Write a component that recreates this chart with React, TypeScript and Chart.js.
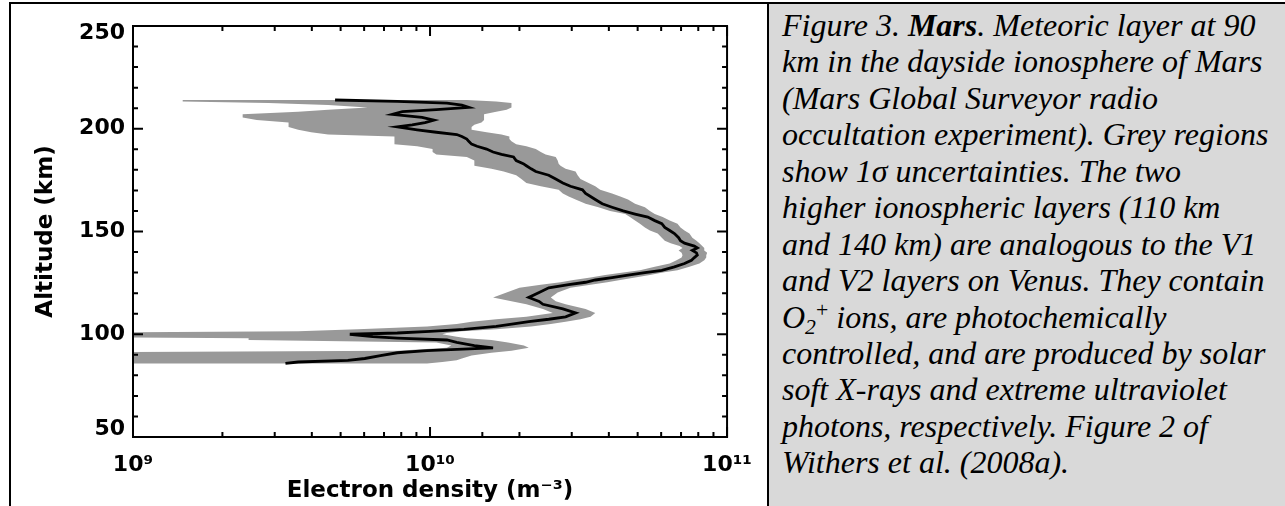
import React, { useEffect, useRef } from 'react';
import { Chart, registerables } from 'chart.js';

Chart.register(...registerables);

// ---------- data ----------
const altitudeKm = [
  85.8, 86.5, 87.3, 88.2, 89.6, 91.0, 92.0, 93.4, 94.5, 96.0,
  97.2, 98.1, 98.8, 100.0, 100.6, 101.4, 102.4, 103.8, 105.0, 106.1,
  107.3, 108.5, 110.4, 112.3, 114.6, 116.0, 117.9, 120.3, 122.6, 124.1,
  125.3, 126.4, 127.6, 128.8, 130.0, 131.1, 132.8, 134.4, 136.0, 137.3,
  138.5, 139.6, 140.8, 142.0, 142.9, 144.3, 145.5, 147.0, 149.0, 150.5,
  152.0, 153.8, 155.3, 157.0, 158.5, 160.0, 161.8, 163.5, 165.6, 167.0,
  168.5, 170.3, 172.0, 173.6, 175.5, 177.4, 179.2, 180.5, 182.0, 183.0,
  184.5, 186.3, 187.5, 188.7, 190.1, 191.5, 192.5, 193.9, 195.0, 196.2,
  197.2, 198.3, 199.5, 200.9, 201.9, 203.0, 204.2, 205.5, 207.0, 208.3,
  209.3, 210.4, 211.5, 212.5, 213.3, 214.0,
];

const densityM3 = [
  3.26e9, 3.6e9, 5.29e9, 6.03e9, 6.81e9, 7.76e9, 9.77e9, 1.63e10, 1.41e10, 1.23e10,
  1.14e10, 7.76e9, 6.41e9, 5.37e9, 7.76e9, 1.0e10, 1.3e10, 1.67e10, 1.91e10, 2.15e10,
  2.51e10, 2.86e10, 3.09e10, 2.8e10, 2.4e10, 2.33e10, 2.15e10, 2.33e10, 2.51e10, 2.93e10,
  3.34e10, 3.6e10, 4.1e10, 4.64e10, 5.29e10, 6.03e10, 6.65e10, 7.19e10, 7.59e10, 7.76e10,
  7.94e10, 7.89e10, 7.64e10, 7.94e10, 7.76e10, 7.19e10, 6.97e10, 6.87e10, 6.65e10, 6.41e10,
  6.17e10, 6.03e10, 5.71e10, 5.41e10, 4.9e10, 4.47e10, 4.1e10, 3.8e10, 3.6e10, 3.47e10,
  3.34e10, 3.26e10, 2.97e10, 2.8e10, 2.65e10, 2.51e10, 2.27e10, 2.19e10, 2.11e10, 2.06e10,
  1.95e10, 1.91e10, 1.74e10, 1.63e10, 1.55e10, 1.44e10, 1.38e10, 1.35e10, 1.33e10, 1.28e10,
  1.23e10, 1.05e10, 9.05e9, 7.76e9, 8.71e9, 9.62e9, 1.03e10, 9.4e9, 7.47e9, 8.07e9,
  1.05e10, 1.35e10, 1.28e10, 1.14e10, 7.76e9, 4.79e9,
];

// 1-sigma band edges (3e8 = below the axis minimum)
const lowerM3 = [
  3e8, 3e8, 3e8, 3e8, 3e8, 3e8, 7.76e9, 1.14e10, 1.18e10, 1.05e10,
  2.45e9, 2.45e9, 3e8, 3e8, 3e8, 3.6e9, 5.71e9, 9.77e9, 1.23e10, 1.38e10,
  1.67e10, 2.11e10, 2.59e10, 2.4e10, 2.11e10, 1.88e10, 1.63e10, 1.81e10, 2.0e10, 2.36e10,
  2.75e10, 3.04e10, 3.47e10, 3.89e10, 4.47e10, 5.09e10, 5.71e10, 6.41e10, 6.76e10, 7.03e10,
  7.08e10, 7.03e10, 6.87e10, 7.08e10, 6.92e10, 6.46e10, 6.17e10, 6.03e10, 5.84e10, 5.5e10,
  5.29e10, 5.09e10, 4.9e10, 4.71e10, 4.54e10, 4.04e10, 3.69e10, 3.34e10, 3.09e10, 2.93e10,
  2.8e10, 2.71e10, 2.36e10, 2.11e10, 2.03e10, 1.95e10, 1.77e10, 1.61e10, 1.41e10, 1.41e10,
  1.41e10, 1.33e10, 1.05e10, 1.02e10, 1.02e10, 9.05e9, 7.59e9, 7.59e9, 7.59e9, 7.59e9,
  4.54e9, 3.98e9, 3.6e9, 3.34e9, 3.34e9, 3.34e9, 2.61e9, 2.34e9, 2.34e9, 3.6e9,
  4.54e9, 6.17e9, 4.54e9, 2.86e9, 1.47e9, 1.47e9,
];

const upperM3 = [
  9.77e9, 1.1e10, 1.23e10, 1.28e10, 1.38e10, 1.61e10, 1.88e10, 2.15e10, 2.07e10, 1.83e10,
  1.61e10, 1.33e10, 1.23e10, 1.1e10, 1.14e10, 1.28e10, 1.67e10, 2.19e10, 2.55e10, 2.86e10,
  3.21e10, 3.47e10, 3.6e10, 3.34e10, 2.86e10, 2.65e10, 2.55e10, 2.69e10, 2.97e10, 3.47e10,
  3.95e10, 4.37e10, 4.9e10, 5.5e10, 6.07e10, 6.81e10, 7.47e10, 8.07e10, 8.38e10, 8.51e10,
  8.51e10, 8.57e10, 8.38e10, 8.38e10, 8.25e10, 8.07e10, 7.89e10, 7.64e10, 7.47e10, 7.19e10,
  6.97e10, 6.81e10, 6.41e10, 6.07e10, 5.71e10, 5.5e10, 5.29e10, 4.9e10, 4.64e10, 4.37e10,
  4.1e10, 3.74e10, 3.6e10, 3.42e10, 3.21e10, 3.14e10, 3.09e10, 2.86e10, 2.75e10, 2.71e10,
  2.69e10, 2.65e10, 2.45e10, 2.36e10, 2.27e10, 2.11e10, 1.95e10, 1.88e10, 1.85e10, 1.85e10,
  1.74e10, 1.55e10, 1.38e10, 1.38e10, 1.41e10, 1.49e10, 1.52e10, 1.52e10, 1.52e10, 1.67e10,
  1.81e10, 1.88e10, 1.88e10, 1.88e10, 1.67e10, 1.33e10,
];

const X_MIN = 1e9;
const X_MAX = 1e11;
const Y_MIN = 50;
const Y_MAX = 250;
const Y_STEP = 10;
const Y_LABEL_STEP = 50;
const xDecadeLabels: Record<number, string> = { 9: '10⁹', 10: '10¹⁰', 11: '10¹¹' };
const xTitle = 'Electron density (m⁻³)';
const yTitle = 'Altitude (km)';

const AXIS_FONT = 'DejaVu Sans';

const isDecade = (v: number) => {
  const e = Math.log10(v);
  return Math.abs(e - Math.round(e)) < 1e-9;
};

const framePlugin = {
  id: 'idlFrame',
  afterDatasetsDraw(chart: any) {
    const { ctx, chartArea: a, scales } = chart;
    const xs = scales.x;
    const ys = scales.y;
    ctx.save();
    ctx.strokeStyle = '#000';
    ctx.lineWidth = 2;
    ctx.strokeRect(a.left, a.top, a.right - a.left, a.bottom - a.top);
    ctx.beginPath();
    for (const t of ys.ticks) {
      const py = ys.getPixelForValue(t.value);
      const len = t.value % Y_LABEL_STEP === 0 ? 10 : 5;
      ctx.moveTo(a.left, py);
      ctx.lineTo(a.left + len, py);
      ctx.moveTo(a.right, py);
      ctx.lineTo(a.right - len, py);
    }
    for (const t of xs.ticks) {
      const px = xs.getPixelForValue(t.value);
      const len = isDecade(t.value) ? 10 : 5;
      ctx.moveTo(px, a.bottom);
      ctx.lineTo(px, a.bottom - len);
      ctx.moveTo(px, a.top);
      ctx.lineTo(px, a.top + len);
    }
    ctx.stroke();
    ctx.restore();
  },
};

function ProfileChart() {
  const ref = useRef<HTMLCanvasElement>(null);
  useEffect(() => {
    const canvas = ref.current;
    if (!canvas) return;
    const lineData = altitudeKm.map((alt, i) => ({ x: densityM3[i], y: alt }));
    const bandData = [
      ...altitudeKm.map((alt, i) => ({ x: lowerM3[i], y: alt })),
      ...altitudeKm.map((alt, i) => ({ x: upperM3[i], y: alt })).reverse(),
    ];
    const chart = new Chart(canvas, {
      type: 'line',
      data: {
        datasets: [
          {
            label: 'Electron density',
            data: lineData,
            borderColor: '#000',
            borderWidth: 2.8,
            pointRadius: 0,
            fill: false,
            tension: 0,
            order: 0,
          } as any,
          {
            label: '1 sigma',
            data: bandData,
            borderColor: 'rgba(0,0,0,0)',
            borderWidth: 0,
            backgroundColor: '#999999',
            pointRadius: 0,
            fill: 'shape',
            tension: 0,
            order: 1,
          } as any,
        ],
      },
      options: {
        responsive: false,
        animation: false,
        devicePixelRatio: 1,
        events: [],
        layout: { padding: { left: 0, right: 34, top: 9, bottom: 0 } },
        plugins: { legend: { display: false }, tooltip: { enabled: false } },
        scales: {
          x: {
            type: 'logarithmic',
            min: X_MIN,
            max: X_MAX,
            position: 'bottom',
            afterFit: (s: any) => {
              s.height = 69;
            },
            grid: { display: false, drawTicks: false },
            border: { display: false },
            ticks: {
              autoSkip: false,
              maxRotation: 0,
              minRotation: 0,
              padding: 15,
              color: '#000',
              font: { family: AXIS_FONT, size: 22, weight: 'bold', lineHeight: 1.2 },
              callback: (v: any) => {
                const val = Number(v);
                return isDecade(val) ? xDecadeLabels[Math.round(Math.log10(val))] : '';
              },
            },
            title: {
              display: true,
              text: xTitle,
              color: '#000',
              font: { family: AXIS_FONT, size: 23, weight: 'bold', lineHeight: 1.2 },
              padding: { top: 0, bottom: 1 },
            },
          } as any,
          y: {
            type: 'linear',
            min: Y_MIN,
            max: Y_MAX,
            position: 'left',
            afterFit: (s: any) => {
              s.width = 122;
            },
            grid: { display: false, drawTicks: false },
            border: { display: false },
            ticks: {
              stepSize: Y_STEP,
              autoSkip: false,
              padding: 8,
              color: '#000',
              font: (c: any) => {
                const v = c.tick ? c.tick.value : 0;
                const lh = v === Y_MAX ? '14px' : v === Y_MIN ? '16px' : 1.2;
                return { family: AXIS_FONT, size: 22, weight: 'bold', lineHeight: lh };
              },
              callback: (v: any) => {
                const val = Number(v);
                if (val % Y_LABEL_STEP !== 0) return '';
                if (val === Y_MAX) return ['', String(val)];
                if (val === Y_MIN) return [String(val), ''];
                return String(val);
              },
            },
            title: {
              display: true,
              text: yTitle,
              color: '#000',
              font: { family: AXIS_FONT, size: 23, weight: 'bold', lineHeight: 1.2 },
              padding: { top: 21, bottom: 0 },
            },
          } as any,
        },
      },
      plugins: [framePlugin],
    });
    return () => chart.destroy();
  }, []);
  return <canvas ref={ref} width={756} height={502} style={{ display: 'block' }} />;
}

const lineStyle: React.CSSProperties = { height: 36.45, lineHeight: '36.45px', whiteSpace: 'nowrap' };
const subStyle: React.CSSProperties = { position: 'relative', top: '0.28em', fontSize: '0.68em', fontStyle: 'italic' };
const supStyle: React.CSSProperties = { position: 'relative', top: '-0.5em', fontSize: '0.68em', fontStyle: 'normal' };

function Caption() {
  return (
    <div
      style={{
        fontFamily: '"Liberation Serif", "Times New Roman", serif',
        fontStyle: 'italic',
        fontSize: 32,
        color: '#000',
        paddingLeft: 13,
        paddingTop: 3,
      }}
    >
      <div style={lineStyle}>
        Figure 3. <b>Mars</b>. Meteoric layer at 90
      </div>
      <div style={lineStyle}>km in the dayside ionosphere of Mars</div>
      <div style={lineStyle}>(Mars Global Surveyor radio</div>
      <div style={lineStyle}>occultation experiment). Grey regions</div>
      <div style={lineStyle}>show 1σ uncertainties. The two</div>
      <div style={lineStyle}>higher ionospheric layers (110 km</div>
      <div style={lineStyle}>and 140 km) are analogous to the V1</div>
      <div style={lineStyle}>and V2 layers on Venus. They contain</div>
      <div style={lineStyle}>
        O<span style={subStyle}>2</span>
        <span style={supStyle}>+</span> ions, are photochemically
      </div>
      <div style={lineStyle}>controlled, and are produced by solar</div>
      <div style={lineStyle}>soft X-rays and extreme ultraviolet</div>
      <div style={lineStyle}>photons, respectively. Figure 2 of</div>
      <div style={lineStyle}>Withers et al. (2008a).</div>
    </div>
  );
}

export default function App() {
  return (
    <div
      style={{
        position: 'absolute',
        left: 0,
        top: 0,
        width: 1285,
        height: 506,
        overflow: 'hidden',
        background: '#fff',
      }}
    >
      <div style={{ position: 'absolute', left: 11, top: 4, width: 756, height: 502 }}>
        <ProfileChart />
      </div>
      <div
        style={{
          position: 'absolute',
          left: 769,
          top: 4,
          width: 516,
          height: 502,
          background: '#d9d9d9',
          overflow: 'hidden',
        }}
      >
        <Caption />
      </div>
      <div style={{ position: 'absolute', left: 9, top: 2, width: 1276, height: 2, background: '#000' }} />
      <div style={{ position: 'absolute', left: 9, top: 2, width: 2, height: 504, background: '#000' }} />
      <div style={{ position: 'absolute', left: 767, top: 2, width: 2, height: 504, background: '#000' }} />
    </div>
  );
}
